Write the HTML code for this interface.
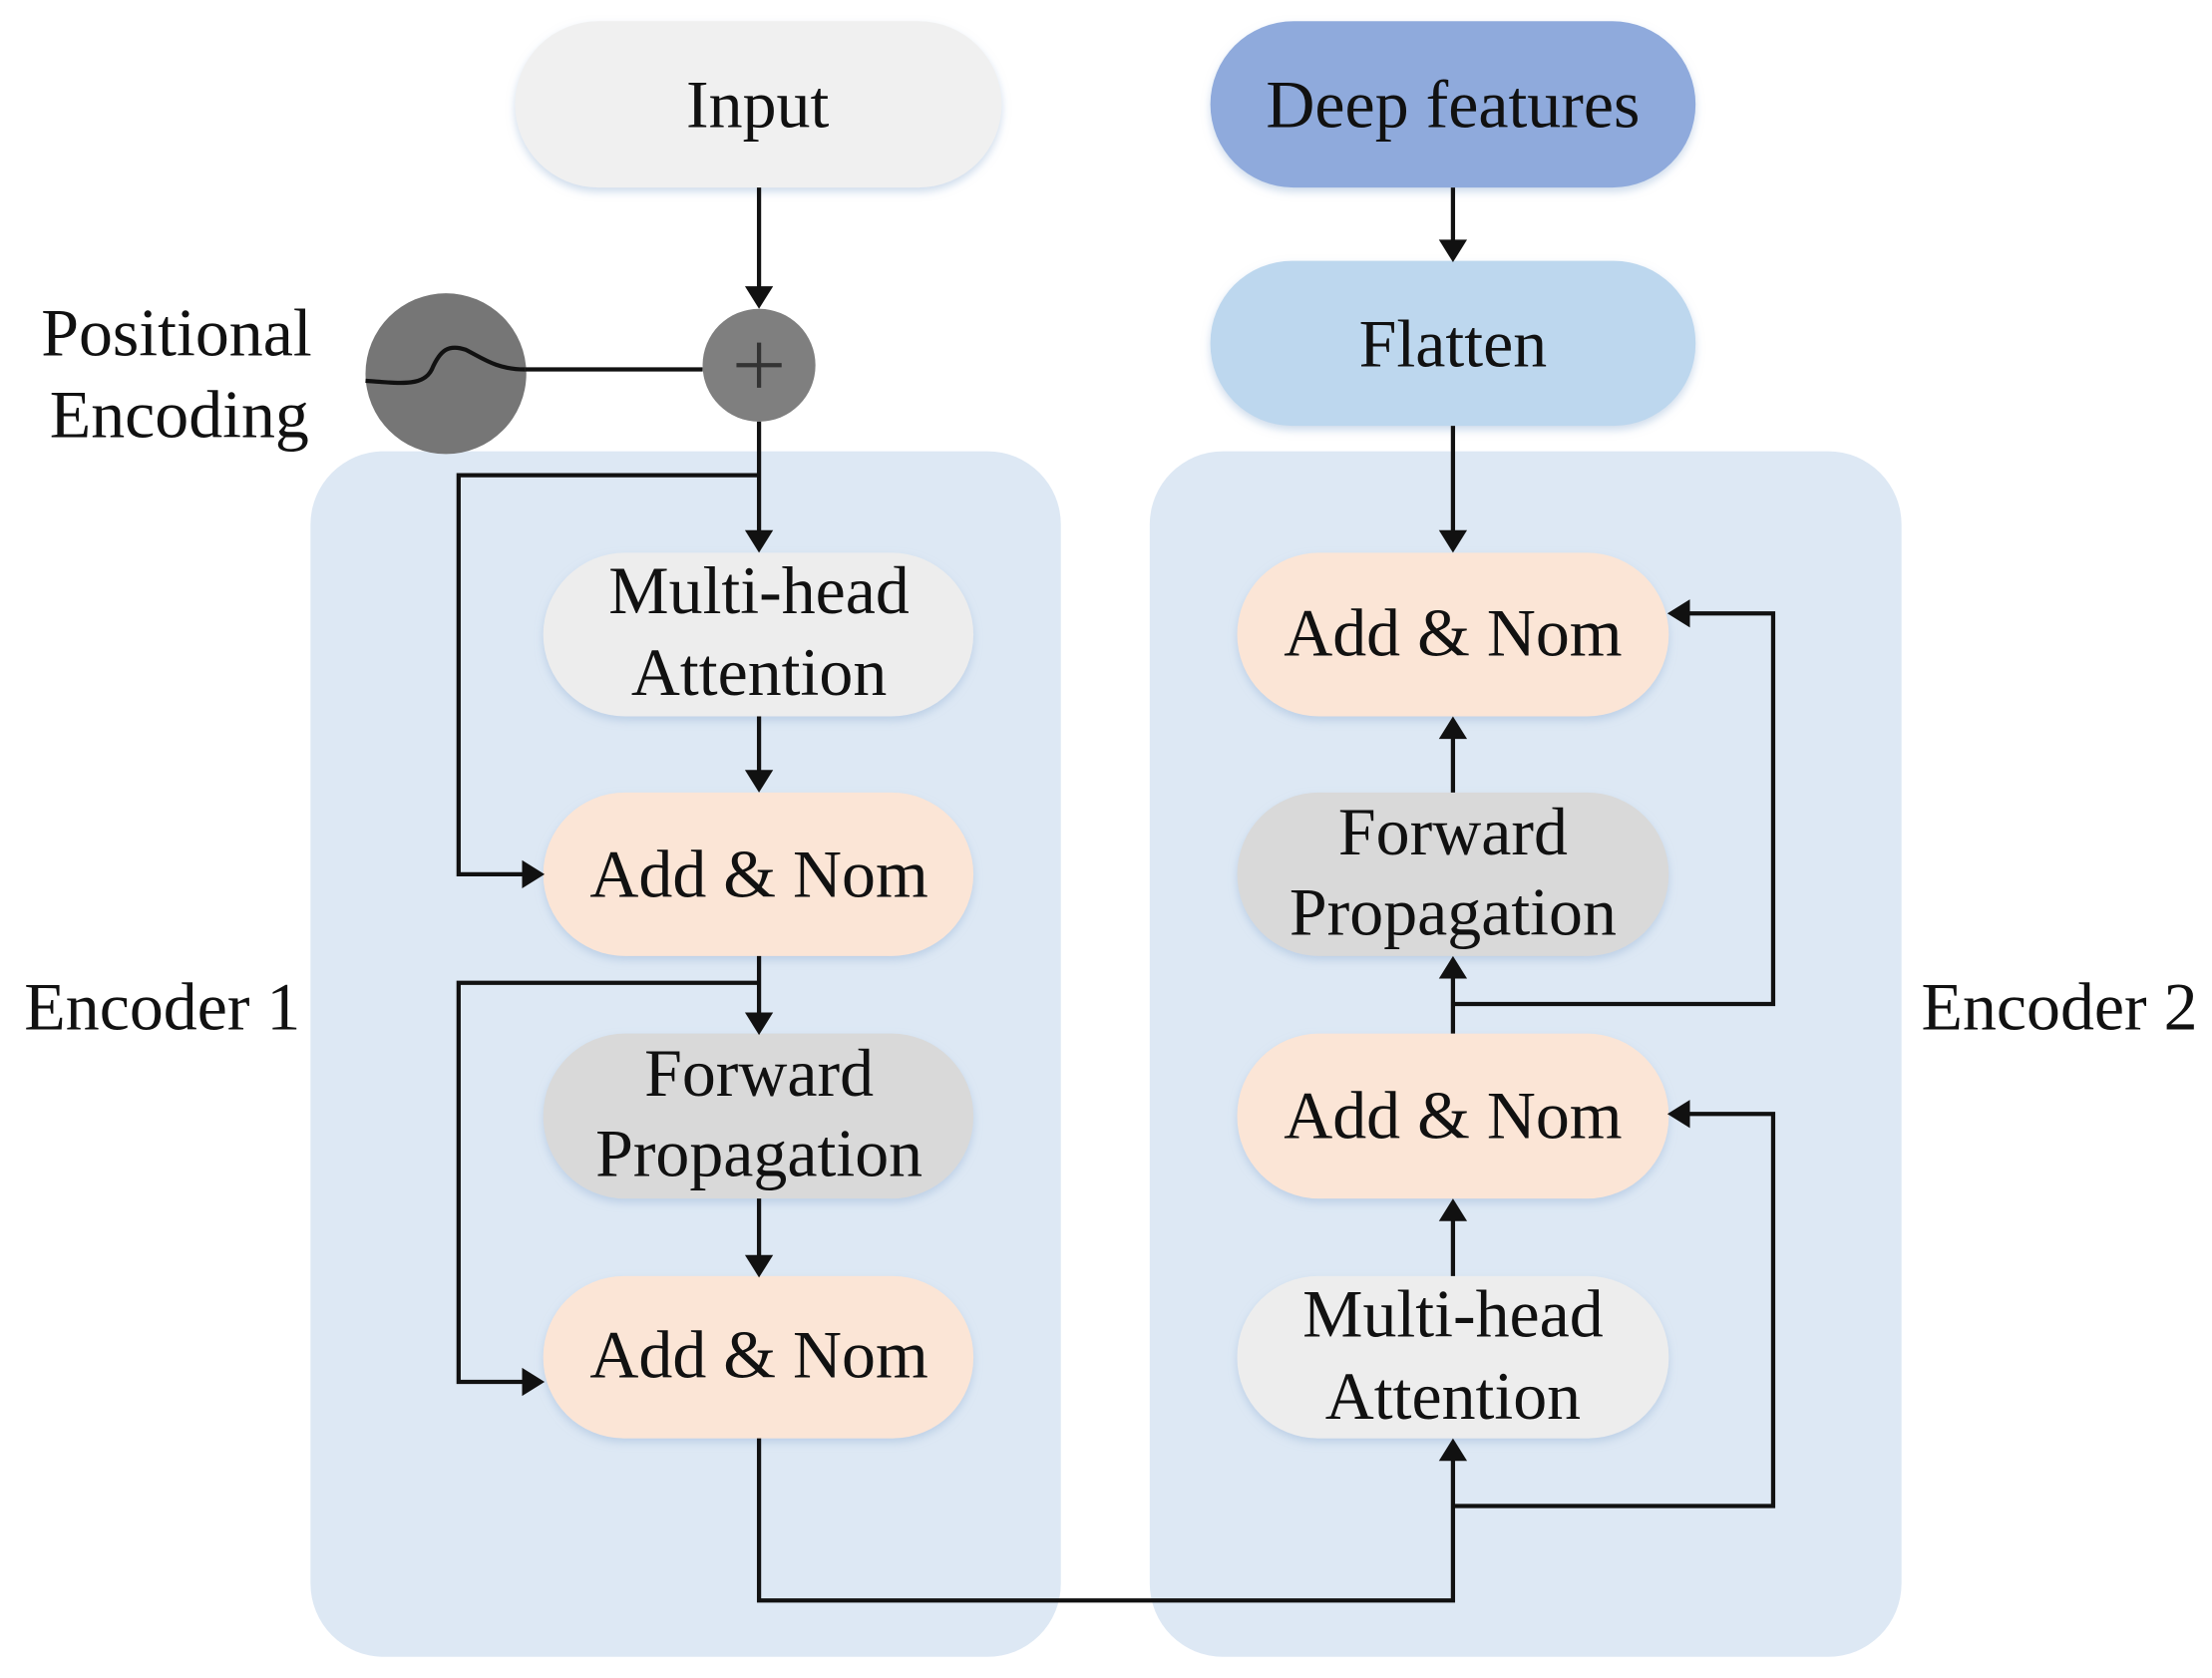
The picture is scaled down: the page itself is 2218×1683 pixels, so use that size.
<!DOCTYPE html>
<html><head><meta charset="utf-8"><style>
html,body{margin:0;padding:0;background:#fff;}
svg{display:block;}
text{font-family:"Liberation Serif",serif;fill:#111;text-anchor:middle;}
</style></head><body>
<svg width="2218" height="1683" viewBox="0 0 1568 1190" xmlns="http://www.w3.org/2000/svg">
<defs>
<filter id="s" x="-10%" y="-10%" width="120%" height="130%"><feDropShadow dx="0" dy="3" stdDeviation="3" flood-color="#9db8d8" flood-opacity="0.5"/></filter>
</defs>
<rect x="220" y="320" width="532" height="855" rx="52" fill="#dde8f4"/>
<rect x="815" y="320" width="533" height="855" rx="52" fill="#dde8f4"/>
<rect x="365" y="15" width="345" height="118" rx="59" fill="#f0f0f0" filter="url(#s)"/>
<rect x="858" y="15" width="344" height="118" rx="59" fill="#8faadc" filter="url(#s)"/>
<rect x="858" y="185" width="344" height="117" rx="58" fill="#bdd7ee" filter="url(#s)"/>
<g font-size="48">
<text x="537" y="90">Input</text>
<text x="1030" y="90">Deep features</text>
<text x="1030" y="260">Flatten</text>
</g>
<g filter="url(#s)">
<rect x="385" y="392" width="305" height="116" rx="58" fill="#ededed"/>
<rect x="385" y="562" width="305" height="116" rx="58" fill="#fbe5d6"/>
<rect x="385" y="733" width="305" height="117" rx="58" fill="#d9d9d9"/>
<rect x="385" y="905" width="305" height="115" rx="57" fill="#fbe5d6"/>
<rect x="877" y="392" width="306" height="116" rx="58" fill="#fbe5d6"/>
<rect x="877" y="562" width="306" height="116" rx="58" fill="#d9d9d9"/>
<rect x="877" y="733" width="306" height="117" rx="58" fill="#fbe5d6"/>
<rect x="877" y="905" width="306" height="115" rx="57" fill="#ededed"/>
</g>
<g font-size="48">
<text x="538" y="435">Multi-head</text>
<text x="538" y="493">Attention</text>
<text x="538" y="636">Add &amp; Nom</text>
<text x="538" y="777">Forward</text>
<text x="538" y="834">Propagation</text>
<text x="538" y="977">Add &amp; Nom</text>
<text x="1030" y="465">Add &amp; Nom</text>
<text x="1030" y="606">Forward</text>
<text x="1030" y="663">Propagation</text>
<text x="1030" y="807">Add &amp; Nom</text>
<text x="1030" y="948">Multi-head</text>
<text x="1030" y="1006">Attention</text>
<text x="125" y="252">Positional</text>
<text x="127" y="310">Encoding</text>
<text x="115" y="730">Encoder 1</text>
<text x="1460" y="730">Encoder 2</text>
</g>
<circle cx="316" cy="265" r="57" fill="#767676"/>
<path d="M259 270 C285 272 300 274 306 262 C312 248 318 244 330 248 C342 254 352 262 372 262" fill="none" stroke="#111" stroke-width="3"/>
<circle cx="538" cy="259" r="40" fill="#7f7f7f"/>
<path d="M522 259H554M538 243V275" stroke="#333" stroke-width="3"/>
<g fill="none" stroke="#111" stroke-width="3">
<path d="M372 262H498"/>
<path d="M538 133V205"/>
<path d="M538 299V378"/>
<path d="M538 337H325V620H372"/>
<path d="M538 508V548"/>
<path d="M538 678V720"/>
<path d="M538 697H325V980H372"/>
<path d="M538 850V892"/>
<path d="M538 1020V1135H1030V1034"/>
<path d="M1030 1068H1257V790H1196"/>
<path d="M1030 905V864"/>
<path d="M1030 733V692"/>
<path d="M1030 712H1257V435H1196"/>
<path d="M1030 562V522"/>
<path d="M1030 302V378"/>
<path d="M1030 133V172"/>
</g>
<g fill="#111">
<polygon points="528,203 548,203 538,219"/>
<polygon points="528,376 548,376 538,392"/>
<polygon points="370,610 370,630 386,620"/>
<polygon points="528,546 548,546 538,562"/>
<polygon points="528,718 548,718 538,734"/>
<polygon points="370,970 370,990 386,980"/>
<polygon points="528,890 548,890 538,906"/>
<polygon points="1020,1036 1040,1036 1030,1020"/>
<polygon points="1198,780 1198,800 1182,790"/>
<polygon points="1020,866 1040,866 1030,850"/>
<polygon points="1020,694 1040,694 1030,678"/>
<polygon points="1198,425 1198,445 1182,435"/>
<polygon points="1020,524 1040,524 1030,508"/>
<polygon points="1020,376 1040,376 1030,392"/>
<polygon points="1020,170 1040,170 1030,186"/>
</g>
</svg>
</body></html>
